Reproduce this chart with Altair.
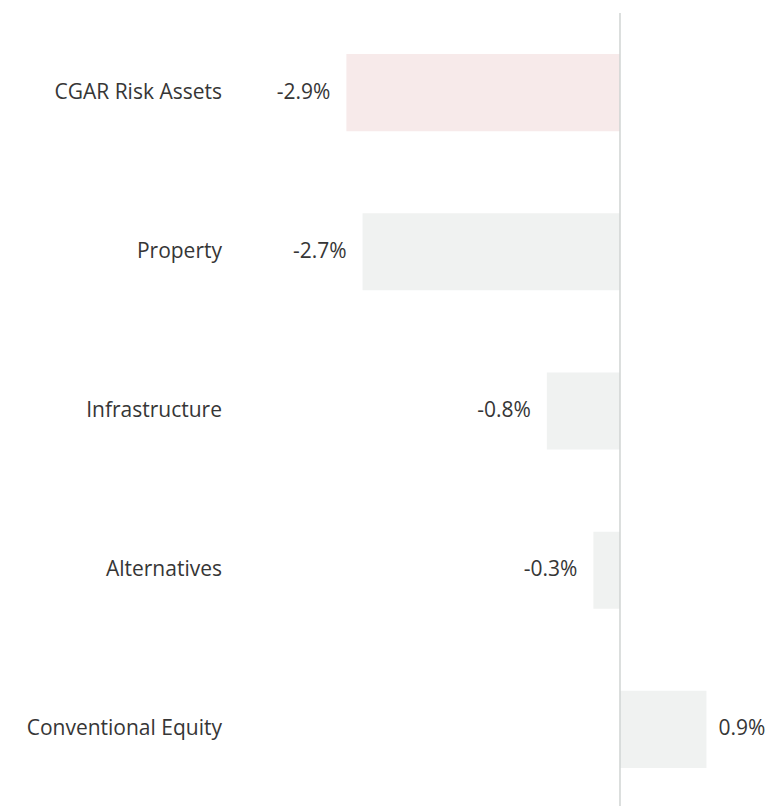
import altair as alt
import pandas as pd

categories = ["CGAR Risk Assets", "Property", "Infrastructure", "Alternatives", "Conventional Equity"]
values = [-2.88, -2.71, -0.77, -0.28, 0.91]
labels = ["-2.9%", "-2.7%", "-0.8%", "-0.3%", "0.9%"]
highlight = [True, False, False, False, False]

df = pd.DataFrame({"cat": categories, "val": values, "label": labels, "hl": highlight})

W, H = 543, 796
FONT = "Open Sans"
FS_CAT = 21
FS_VAL = 21
TXT = "#363636"

x_scale = alt.Scale(domain=[-4.158, 1.558], nice=False, zero=False)
y_scale = alt.Scale(domain=categories, paddingInner=0.516, paddingOuter=0.258)

base = alt.Chart(df)

bars = base.mark_bar().encode(
    x=alt.X("val:Q", scale=x_scale, axis=None),
    x2=alt.datum(0),
    y=alt.Y("cat:N", scale=y_scale, axis=None),
    color=alt.Color("hl:N", scale=alt.Scale(domain=[True, False], range=["#f7eaea", "#f0f2f1"]), legend=None),
)

rule = alt.Chart(pd.DataFrame({"z": [0]})).mark_rule(color="#d0d4d3", strokeWidth=1.5).encode(
    x=alt.X("z:Q", scale=x_scale, axis=None),
    y=alt.value(0),
    y2=alt.value(H),
)

neg_text = base.transform_filter("datum.val < 0").mark_text(
    align="right", baseline="middle", dx=-16, font=FONT, fontSize=FS_VAL, color=TXT
).encode(
    x=alt.X("val:Q", scale=x_scale, axis=None),
    y=alt.Y("cat:N", scale=y_scale, axis=None),
    text="label:N",
)

pos_text = base.transform_filter("datum.val >= 0").mark_text(
    align="left", baseline="middle", dx=12, font=FONT, fontSize=FS_VAL, color=TXT
).encode(
    x=alt.X("val:Q", scale=x_scale, axis=None),
    y=alt.Y("cat:N", scale=y_scale, axis=None),
    text="label:N",
)

cat_text = base.mark_text(
    align="right", baseline="middle", font=FONT, fontSize=FS_CAT, color=TXT
).encode(
    x=alt.value(-3),
    y=alt.Y("cat:N", scale=y_scale, axis=None),
    text="cat:N",
)

chart = alt.layer(bars, rule, neg_text, pos_text, cat_text).properties(
    width=W, height=H,
    autosize=alt.AutoSizeParams(type="none"),
    padding={"left": 217, "top": 5, "right": 0, "bottom": 5},
).configure_view(stroke=None)

chart.save("out.html", embed_options={"renderer": "svg", "actions": False})
